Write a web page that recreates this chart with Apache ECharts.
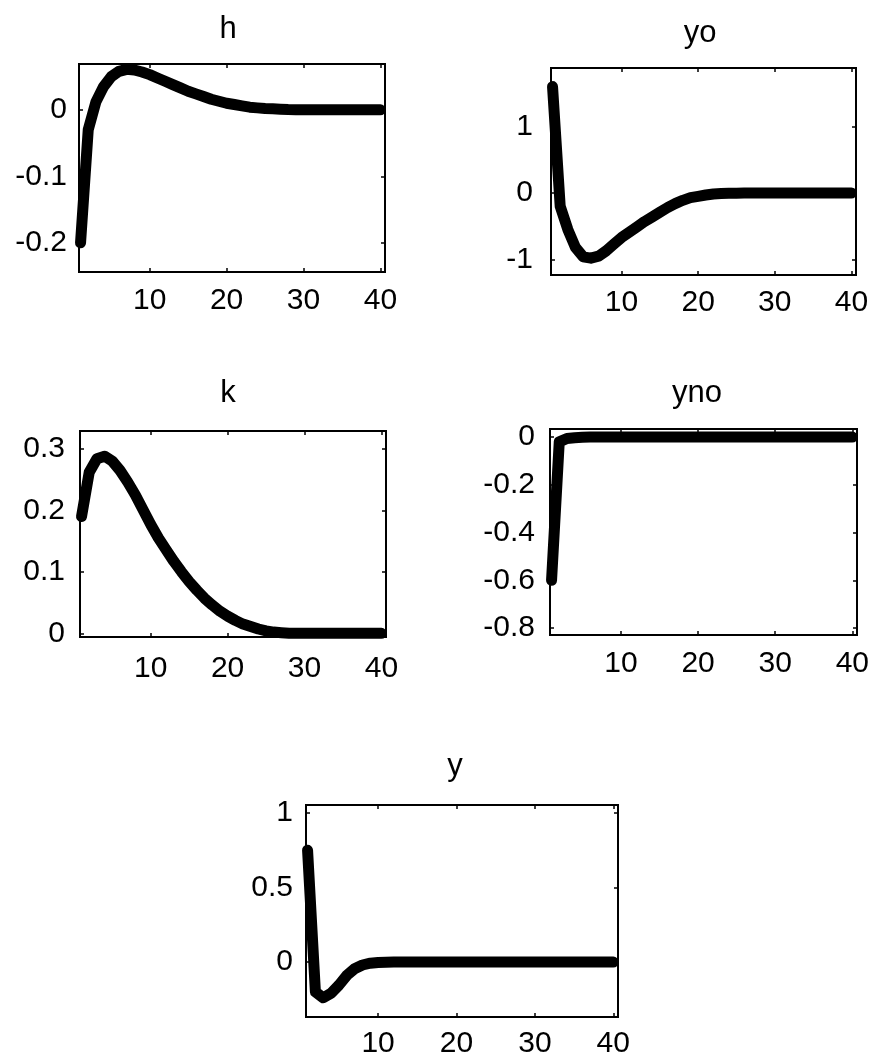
<!DOCTYPE html>
<html><head><meta charset="utf-8">
<script src="https://cdn.jsdelivr.net/npm/echarts@6/dist/echarts.min.js"></script>
<style>html,body{margin:0;padding:0;background:#fff}#c{width:876px;height:1063px}</style>
</head><body><div id="c"></div>
<script>
const periods = [1,2,3,4,5,6,7,8,9,10,11,12,13,14,15,16,17,18,19,20,21,22,23,24,25,26,27,28,29,30,31,32,33,34,35,36,37,38,39,40];
const hValues = [-0.20,-0.03,0.012,0.035,0.050,0.058,0.061,0.060,0.057,0.053,0.048,0.043,0.038,0.033,0.028,0.024,0.020,0.016,0.013,0.010,0.008,0.006,0.004,0.003,0.002,0.0015,0.001,0.0005,0.0003,0.0002,0.0001,0,0,0,0,0,0,0,0,0];
const yoValues = [1.60,-0.20,-0.55,-0.82,-0.96,-0.98,-0.95,-0.87,-0.77,-0.67,-0.59,-0.51,-0.43,-0.36,-0.29,-0.22,-0.16,-0.11,-0.07,-0.05,-0.03,-0.015,-0.008,-0.004,-0.002,-0.001,0,0,0,0,0,0,0,0,0,0,0,0,0,0];
const kValues = [0.19,0.262,0.284,0.288,0.280,0.265,0.246,0.225,0.201,0.177,0.155,0.136,0.117,0.100,0.084,0.070,0.057,0.046,0.036,0.028,0.021,0.015,0.011,0.007,0.004,0.002,0.001,0,0,0,0,0,0,0,0,0,0,0,0,0];
const ynoValues = [-0.60,-0.02,-0.006,-0.003,-0.001,0,0,0,0,0,0,0,0,0,0,0,0,0,0,0,0,0,0,0,0,0,0,0,0,0,0,0,0,0,0,0,0,0,0,0];
const yValues = [0.75,-0.20,-0.24,-0.21,-0.155,-0.09,-0.045,-0.02,-0.008,-0.003,-0.001,0,0,0,0,0,0,0,0,0,0,0,0,0,0,0,0,0,0,0,0,0,0,0,0,0,0,0,0,0];
const xTicks = [10,20,30,40];
const hTicks = [-0.2,-0.1,0];
const yoTicks = [-1,0,1];
const kTicks = [0,0.1,0.2,0.3];
const ynoTicks = [-0.8,-0.6,-0.4,-0.2,0];
const yTicks = [0,0.5,1];
const titles = ['h','yo','k','yno','y'];

const FONT = 'Liberation Sans';
const panels = [
  {data:hValues, ticks:hTicks, ymin:-0.244, ymax:0.069, grid:{left:79,top:64,width:306,height:208}, tx:228, ty:29, lm:12, xm:14},
  {data:yoValues, ticks:yoTicks, ymin:-1.233, ymax:1.88, grid:{left:551,top:68,width:305,height:207}, tx:700, ty:33, lm:18, xm:13},
  {data:kValues, ticks:kTicks, ymin:-0.006, ymax:0.329, grid:{left:80,top:431,width:306,height:206}, tx:228, ty:393, lm:15, xm:17},
  {data:ynoValues, ticks:ynoTicks, ymin:-0.829, ymax:0.034, grid:{left:550,top:429,width:307,height:206}, tx:697, ty:393, lm:15, xm:14},
  {data:yValues, ticks:yTicks, ymin:-0.369, ymax:1.054, grid:{left:306,top:805,width:312,height:212}, tx:455, ty:766, lm:13, xm:12}
];

const grid = [], xAxis = [], yAxis = [], series = [], graphic = [];
panels.forEach((p, i) => {
  grid.push(Object.assign({show:true, borderColor:'#000', borderWidth:2, backgroundColor:'#fff'}, p.grid));
  const tickStyle = {lineStyle:{color:'#000', width:1.5}};
  const noLine = {show:false, onZero:false};
  xAxis.push({type:'value', gridIndex:i, min:0.8, max:40.6, position:'bottom',
    axisLine:noLine, splitLine:{show:false},
    axisTick:Object.assign({show:true, inside:true, length:4, customValues:xTicks}, tickStyle),
    axisLabel:{customValues:xTicks, color:'#000', fontSize:30, fontFamily:FONT, margin:p.xm}});
  xAxis.push({type:'value', gridIndex:i, min:0.8, max:40.6, position:'top',
    axisLine:noLine, splitLine:{show:false},
    axisTick:Object.assign({show:true, inside:true, length:4, customValues:xTicks}, tickStyle),
    axisLabel:{show:false}});
  yAxis.push({type:'value', gridIndex:i, min:p.ymin, max:p.ymax, position:'left',
    axisLine:noLine, splitLine:{show:false},
    axisTick:Object.assign({show:true, inside:true, length:4, customValues:p.ticks}, tickStyle),
    axisLabel:{customValues:p.ticks, color:'#000', fontSize:30, fontFamily:FONT, margin:p.lm}});
  yAxis.push({type:'value', gridIndex:i, min:p.ymin, max:p.ymax, position:'right',
    axisLine:noLine, splitLine:{show:false},
    axisTick:Object.assign({show:true, inside:true, length:4, customValues:p.ticks}, tickStyle),
    axisLabel:{show:false}});
  series.push({type:'line', xAxisIndex:2*i, yAxisIndex:2*i, showSymbol:false, clip:true, silent:true,
    smooth:false,
    data:periods.map((t, j) => [t, p.data[j]]),
    lineStyle:{color:'#000', width:11, join:'round', cap:'round'}});
  graphic.push({type:'text', x:p.tx, y:p.ty, style:{text:titles[i], fontSize:31, fontFamily:FONT, fill:'#000',
    align:'center', verticalAlign:'middle', textAlign:'center', textVerticalAlign:'middle'}});
});

const chart = echarts.init(document.getElementById('c'), null, {renderer:'canvas'});
chart.setOption({animation:false, backgroundColor:'#fff', grid, xAxis, yAxis, series, graphic});
</script></body></html>
